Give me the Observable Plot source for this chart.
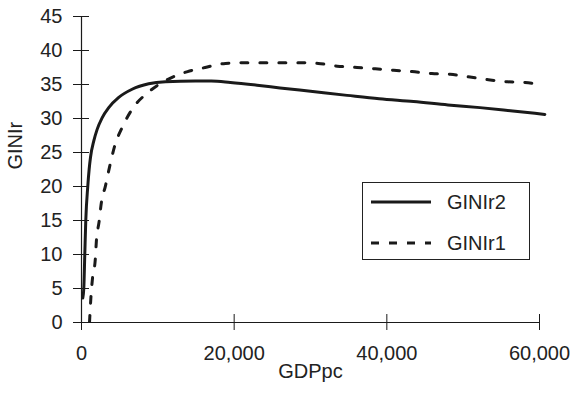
<!DOCTYPE html>
<html>
<head>
<meta charset="utf-8">
<script src="https://cdn.jsdelivr.net/npm/d3@7"></script>
<script src="https://cdn.jsdelivr.net/npm/@observablehq/plot@0.6"></script>
<style>
  body { margin: 0; background: #fff; }
  #wrap { position: relative; width: 574px; height: 399px; font-family: "Liberation Sans", Arial, sans-serif; }
  #legend { position: absolute; left: 362px; top: 182px; width: 166px; height: 76px; border: 1.2px solid #222; background: #fff; }
  #legend .row { position: absolute; left: 8px; height: 22px; display: flex; align-items: center; font-size: 20px; color: #222; }
  #legend svg { margin-right: 16px; }
</style>
</head>
<body>
<div id="wrap"></div>
<script>
// Series
const r2GDP  = [170, 300, 430, 560, 820, 1000, 1180, 1610, 2050, 2700, 3570, 4880, 6630, 8800, 11000, 14900, 17000, 19500, 23000, 26000, 30000, 34800, 39000, 43500, 48000, 52200, 56500, 60700];
const r2Gini = [3.6, 5, 10, 15, 20, 22.5, 24.3, 26.7, 28.4, 30.1, 31.6, 33.1, 34.3, 35.1, 35.4, 35.5, 35.5, 35.3, 34.9, 34.5, 34, 33.4, 32.9, 32.5, 32, 31.6, 31.1, 30.6];

const r1GDP  = [1050, 1250, 1450, 1800, 1950, 2300, 2600, 3140, 3700, 4360, 5330, 6720, 8900, 11400, 13900, 16200, 18850, 21200, 23800, 26300, 28700, 31000, 33500, 36100, 38500, 40900, 43300, 45900, 48300, 50900, 53300, 55800, 58100, 60500];
const r1Gini = [0, 4, 6.6, 9.2, 12, 14.8, 17.6, 20.1, 23, 26, 28.7, 31.5, 34, 35.8, 36.9, 37.5, 38.1, 38.2, 38.2, 38.2, 38.2, 38.1, 37.7, 37.5, 37.3, 37.1, 36.9, 36.6, 36.5, 36.1, 35.7, 35.4, 35.3, 34.9];

const xTicks = [0, 20000, 40000, 60000];
const yTicks = [0, 5, 10, 15, 20, 25, 30, 35, 40, 45];
const seriesNames = ["GINIr2", "GINIr1"];
const xLabel = "GDPpc";
const yLabel = "GINIr";

const r2 = r2GDP.map((g, i) => ({g, v: r2Gini[i]}));
const r1 = r1GDP.map((g, i) => ({g, v: r1Gini[i]}));

const ink = "#1a1a1a";
const chart = Plot.plot({
  width: 574,
  height: 399,
  marginLeft: 81,
  marginRight: 35,
  marginTop: 16,
  marginBottom: 77,
  style: {fontFamily: "'Liberation Sans', Arial, sans-serif", fontSize: "20px", color: "#222", background: "#fff"},
  x: {domain: [0, 60000]},
  y: {domain: [0, 45]},
  marks: [
    Plot.axisX({ticks: xTicks, tickFormat: d3.format(","), tickSize: 16, dy: -8, tickPadding: 15, label: null, stroke: ink, fill: "#222", fontSize: 20}),
    Plot.axisY({ticks: yTicks, tickSize: 16, dx: 8, tickPadding: 11, label: null, stroke: ink, fill: "#222", fontSize: 20}),
    Plot.ruleX([0], {stroke: ink, strokeWidth: 1.2}),
    Plot.ruleY([0], {stroke: ink, strokeWidth: 1.2}),
    Plot.line(r1, {x: "g", y: "v", stroke: ink, strokeWidth: 3, strokeDasharray: "7,12", curve: "monotone-x", clip: true}),
    Plot.line(r2, {x: "g", y: "v", stroke: ink, strokeWidth: 3, curve: "monotone-x"}),
    Plot.text([xLabel], {frameAnchor: "bottom", dy: 55, fill: "#222", fontSize: 20}),
    Plot.text([yLabel], {frameAnchor: "left", dx: -66, rotate: -90, fill: "#222", fontSize: 20})
  ]
});
const wrap = document.getElementById("wrap");
wrap.appendChild(chart);

// Legend
const legend = document.createElement("div");
legend.id = "legend";
const dashes = ["none", "8,10"];
seriesNames.forEach((name, i) => {
  const row = document.createElement("div");
  row.className = "row";
  row.style.top = (8 + i * 41) + "px";
  row.innerHTML = `<svg width="60" height="6"><line x1="0" x2="60" y1="3" y2="3" stroke="${ink}" stroke-width="3" stroke-dasharray="${dashes[i]}"/></svg><span>${name}</span>`;
  legend.appendChild(row);
});
wrap.appendChild(legend);
</script>
</body>
</html>
